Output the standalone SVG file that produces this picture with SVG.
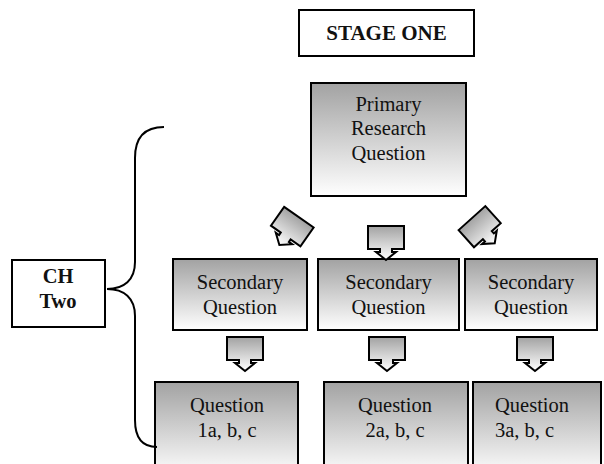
<svg xmlns="http://www.w3.org/2000/svg" width="604" height="464" viewBox="0 0 604 464">
<defs>
<linearGradient id="g" x1="0" y1="0" x2="0" y2="1">
<stop offset="0" stop-color="#a2a2a2"/>
<stop offset="1" stop-color="#ffffff"/>
</linearGradient>
<path id="arr" d="M-18,0 H18 V23 H6 V26 H10 L0,34 L-10,26 H-6 V23 H-18 Z"/>
</defs>
<style>
.box{fill:url(#g);stroke:#000;stroke-width:2}
.plain{fill:#fff;stroke:#000;stroke-width:2}
.t{font-family:"Liberation Serif","Times New Roman",serif;font-size:20.5px;fill:#111;text-anchor:middle}
.b{font-weight:bold}
.l{text-anchor:start}
.arrow{fill:url(#g);stroke:#000;stroke-width:2;stroke-linejoin:miter}
.brace{fill:none;stroke:#000;stroke-width:2}
</style>
<g id="stage-one">
<rect class="plain" x="299" y="10" width="175" height="46"/>
<text class="t b" x="386.5" y="40" style="font-size:21px">STAGE ONE</text>
</g>
<g id="primary">
<rect class="box" x="311" y="83" width="155" height="113"/>
<text class="t" x="388.5" y="111">Primary</text>
<text class="t" x="388.5" y="135">Research</text>
<text class="t" x="388.5" y="160">Question</text>
</g>
<g id="sec1">
<rect class="box" x="173" y="259" width="134" height="71"/>
<text class="t" x="240" y="289">Secondary</text>
<text class="t" x="240" y="314">Question</text>
</g>
<g id="sec2">
<rect class="box" x="318" y="259" width="141" height="71"/>
<text class="t" x="388.5" y="289">Secondary</text>
<text class="t" x="388.5" y="314">Question</text>
</g>
<g id="sec3">
<rect class="box" x="465" y="259" width="132" height="71"/>
<text class="t" x="531" y="289">Secondary</text>
<text class="t" x="531" y="314">Question</text>
</g>
<g id="q1">
<rect class="box" x="155" y="382" width="143" height="95"/>
<text class="t" x="227" y="412">Question</text>
<text class="t" x="227" y="437">1a, b, c</text>
</g>
<g id="q2">
<rect class="box" x="324" y="382" width="144" height="95"/>
<text class="t" x="395" y="412">Question</text>
<text class="t" x="395" y="437">2a, b, c</text>
</g>
<g id="q3">
<rect class="box" x="473" y="382" width="128" height="95"/>
<text class="t l" x="495" y="412">Question</text>
<text class="t l" x="495" y="437">3a, b, c</text>
</g>
<g id="ch-two">
<rect class="plain" x="12" y="260" width="93" height="67"/>
<text class="t b" x="58" y="283">CH</text>
<text class="t b" x="58" y="308">Two</text>
</g>
<g id="connectors">
<use href="#arr" class="arrow" transform="translate(292,227) rotate(35) translate(0,-12)"/>
<use href="#arr" class="arrow" transform="translate(386,226)"/>
<use href="#arr" class="arrow" transform="translate(480,227) rotate(-42) translate(0,-12)"/>
<use href="#arr" class="arrow" transform="translate(245,337)"/>
<use href="#arr" class="arrow" transform="translate(387,337)"/>
<use href="#arr" class="arrow" transform="translate(535,337)"/>
<path class="brace" d="M164,127 C145,127 135,137 135,158 L135,262 C135,280 124,289 107,289 C124,289 135,298 135,316 L135,420 C135,438 143,447 157,447"/>
</g>
</svg>
